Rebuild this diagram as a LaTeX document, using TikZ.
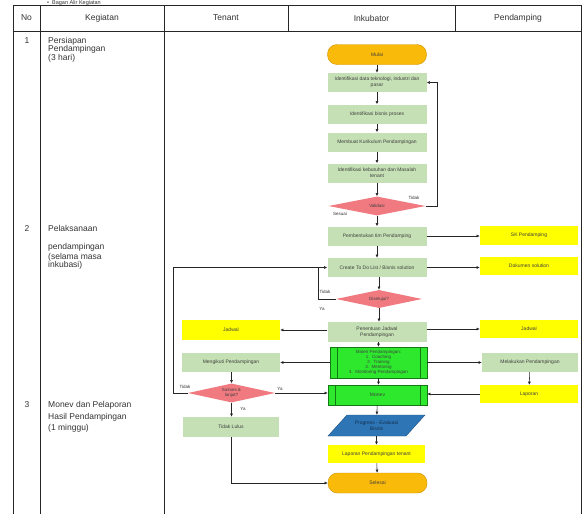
\documentclass[tikz,border=0pt]{standalone}
\usepackage{fontspec}
\setmainfont{Liberation Sans}
\usetikzlibrary{arrows.meta,shapes.geometric}
\definecolor{lgreen}{RGB}{197,224,180}
\definecolor{bgreen}{RGB}{45,232,45}
\definecolor{bgborder}{RGB}{20,120,20}
\definecolor{ylw}{RGB}{255,255,0}
\definecolor{orng}{RGB}{250,186,10}
\definecolor{orngb}{RGB}{205,145,0}
\definecolor{pnk}{RGB}{240,122,128}
\definecolor{blu}{RGB}{46,117,182}
\definecolor{blub}{RGB}{30,80,130}
\tikzset{
  tbl/.style={line width=0.9pt, draw=black!85},
  hdr/.style={font=\fontsize{8.5}{9}\selectfont, text=black!80},
  rowtxt/.style={font=\fontsize{8.5}{9.5}\selectfont, text=black!80, align=left, inner sep=0pt},
  bx/.style={minimum width=99pt, minimum height=19pt, inner sep=1pt, align=center,
     font=\fontsize{5}{5.8}\selectfont, text=black!75},
  gbox/.style={bx, fill=lgreen},
  ybox/.style={bx, fill=ylw, minimum width=98pt},
  pbox/.style={bx, fill=bgreen, draw=bgborder, line width=0.4pt, minimum width=97pt},
  term/.style={bx, fill=orng, draw=orngb, line width=0.4pt, rounded corners=9.5pt, minimum height=20pt},
  dia/.style={diamond, aspect=4, fill=pnk, inner sep=0pt, align=center,
     font=\fontsize{4.5}{5}\selectfont, text=black!75},
  lbl/.style={font=\fontsize{4.5}{5}\selectfont, text=black!80, inner sep=0.5pt},
  arr/.style={draw=black!85, line width=0.55pt, -{Latex[length=3.2pt,width=3pt]}},
  ln/.style={draw=black!85, line width=0.55pt}
}
\begin{document}
\begin{tikzpicture}[x=1pt,y=-1pt]
\useasboundingbox (0,0) rectangle (582,514);
\fill[white] (0,0) rectangle (582,514);

% title
\node[anchor=base west, font=\fontsize{5.5}{6}\selectfont, text=black!80, inner sep=0pt] (title) at (47,4.3) {\textbullet\ \ Bagan Alir Kegiatan};

% table header
\draw[tbl] (13,5) rectangle (581,31);
\foreach \xx in {40,164,288,455} \draw[tbl] (\xx,5) -- (\xx,31);
\node[hdr] (hno) at (26.5,18) {No};
\node[hdr] (hkeg) at (102,18) {Kegiatan};
\node[hdr] (hten) at (226,18) {Tenant};
\node[hdr] (hink) at (371.5,18) {Inkubator};
\node[hdr] (hpen) at (518,18) {Pendamping};
% table body
\foreach \xx in {13,40,164,581} \draw[tbl] (\xx,31) -- (\xx,516);

% row texts
\node[rowtxt, anchor=north] (n1) at (27,37) {1};
\node[rowtxt, anchor=north west] (k1) at (48,37) {Persiapan\\[-1.5pt]Pendampingan\\(3 hari)};
\node[rowtxt, anchor=north] (n2) at (27,225) {2};
\node[rowtxt, anchor=north west] (k2a) at (48,225) {Pelaksanaan};
\node[rowtxt, anchor=north west] (k2b) at (48,243) {pendampingan\\[0.5pt](selama masa\\[-1pt]inkubasi)};
\node[rowtxt, anchor=north] (n3) at (27,401) {3};
\node[rowtxt, anchor=north west] (k3) at (48,401) {Monev dan Pelaporan\\[3pt]Hasil Pendampingan\\[1pt](1 minggu)};

% ---- Inkubator column
\node[term] (mulai) at (377,54.5) {Mulai};
\node[gbox] (b1) at (377,82.5) {Identifikasi data teknologi, industri dan\\pasar};
\node[gbox] (b2) at (377,114) {Identifikasi bisnis proses};
\node[gbox] (b3) at (377,142) {Membuat Kurikulum Pendampingan};
\node[gbox] (b4) at (377,173) {Identifikasi kebutuhan dan Masalah\\tenant};
\node[dia, minimum width=97pt, minimum height=19pt] (d1) at (377,206) {Validasi};
\node[gbox] (b5) at (377,236) {Pembentukan tim Pendamping};
\node[gbox] (b6) at (377,267.5) {Create To Do List / Bisnis solution};
\node[dia, minimum width=86pt, minimum height=18pt] (d2) at (379,299) {Disetujui?};
\node[gbox, minimum height=20pt] (b7) at (377,332) {Penentuan Jadwal\\Pendampingan};
\node[pbox, minimum height=31pt, font=\fontsize{4.5}{5}\selectfont] (g1) at (378.5,362.5)
  {Materi Pendampingan:\\1.\ \ Coaching\\2.\ \ Training\\3.\ \ Mentoring\\4.\ \ Monitoring Pendampingan};
\draw[bgborder, line width=0.4pt] ([xshift=7pt]g1.north west) -- ([xshift=7pt]g1.south west);
\draw[bgborder, line width=0.4pt] ([xshift=-7pt]g1.north east) -- ([xshift=-7pt]g1.south east);
\node[pbox, minimum width=99pt, minimum height=20pt] (g2) at (377.5,395) {Monev};
\draw[bgborder, line width=0.4pt] ([xshift=7pt]g2.north west) -- ([xshift=7pt]g2.south west);
\draw[bgborder, line width=0.4pt] ([xshift=-7pt]g2.north east) -- ([xshift=-7pt]g2.south east);
\fill[blu, draw=blub, line width=0.4pt] (328,436) -- (347,415) -- (425,415) -- (406,436) -- cycle;
\node[bx, minimum width=97pt, minimum height=21pt, text=blub!60!black] (prog) at (376.5,425.5) {Progress - Evaluasi\\Bisnis};
\node[ybox, minimum width=97pt, minimum height=18pt] (lap) at (376.5,454) {Laporan Pendampingan tenant};
\node[term] (selesai) at (377.5,483) {Selesai};

% ---- Pendamping column
\node[ybox] (sk) at (529,235) {SK Pendamping};
\node[ybox, minimum height=18pt] (dok) at (529,266) {Dokumen solution};
\node[ybox, minimum height=18pt] (jr) at (529,329) {Jadwal};
\node[gbox, minimum width=96pt] (mel) at (530,362.5) {Melakukan Pendampingan};
\node[ybox, minimum height=18pt] (lapr) at (529,394) {Laporan};

% ---- Tenant column
\node[ybox, minimum width=98pt, minimum height=20pt] (jl) at (231,330) {Jadwal};
\node[gbox, minimum width=98pt] (ikut) at (231,362.5) {Mengikuti Pendampingan};
\node[dia, minimum width=87pt, minimum height=19pt] (d3) at (231.5,393) {Sukses \&\\lanjut?};
\node[gbox, minimum width=96pt, minimum height=20pt] (tl) at (231,427) {Tidak Lulus};

% ---- connectors: main column
\draw[arr] (mulai) -- (b1);
\draw[arr] (b1) -- (b2);
\draw[arr] (b2) -- (b3);
\draw[arr] (b3) -- (b4);
\draw[arr] (b4) -- (d1);
\draw[arr] (d1) -- (b5);
\draw[arr] (b5) -- (b6);
\draw[arr] (b6.south -| d2.north) -- (d2);
\draw[arr] (d2.south) -- (d2.south |- b7.north);
\draw[arr] (b7.south -| g1.north) -- (g1);
\draw[arr] (g1.south) -- (g1.south |- g2.north);
\draw[arr] (g2) -- (prog);
\draw[arr] (prog) -- (lap);
\draw[arr] (lap) -- (selesai);

% loop Validasi -> Identifikasi data
\coordinate (c1) at (437,206);
\draw[arr] (d1.east) -- (c1) |- (b1.east);
\node[lbl] (t1) at (414,197.5) {Tidak};
\node[lbl] (s1) at (340,214) {Sesuai};

% loop Disetujui -> Create
\coordinate (c2) at (318,299);
\draw[ln] (d2.west) -- (c2) -- (c2 |- b6.west);
\node[lbl] (t2) at (325,292) {Tidak};
\node[lbl] (y2) at (322,309) {Ya};

% loop Sukses -> Create
\coordinate (c3) at (173,393);
\draw[arr] (d3.west) -- (c3) |- (b6.west);
\node[lbl] (t3) at (185,387) {Tidak};
\node[lbl] (y3) at (280,388.5) {Ya};
\node[lbl] (y4) at (243,409) {Ya};

% to Pendamping column
\draw[arr] (b5.east) -- (sk.west |- b5.east);
\draw[arr] (b6.east) -- (dok.west |- b6.east);
\draw[arr] (b7.east |- jr.west) -- (jr.west);
\draw[arr] (g1.east |- mel.west) -- (mel.west);
\draw[arr] (mel) -- (lapr);
\draw[arr] (lapr.west) -- (g2.east |- lapr.west);

% to Tenant column
\draw[arr] (b7.west |- jl.east) -- (jl.east);
\draw[arr] (g1.west |- ikut.east) -- (ikut.east);
\draw[arr] (ikut.south -| d3.north) -- (d3.north);
\draw[arr] (d3.east) -- (g2.west |- d3.east);
\draw[arr] (d3.south) -- (d3.south |- tl.north);
\coordinate (c4) at (231,483);
\draw[arr] (tl.south) -- (c4) -- (selesai.west);
\end{tikzpicture}
\end{document}
